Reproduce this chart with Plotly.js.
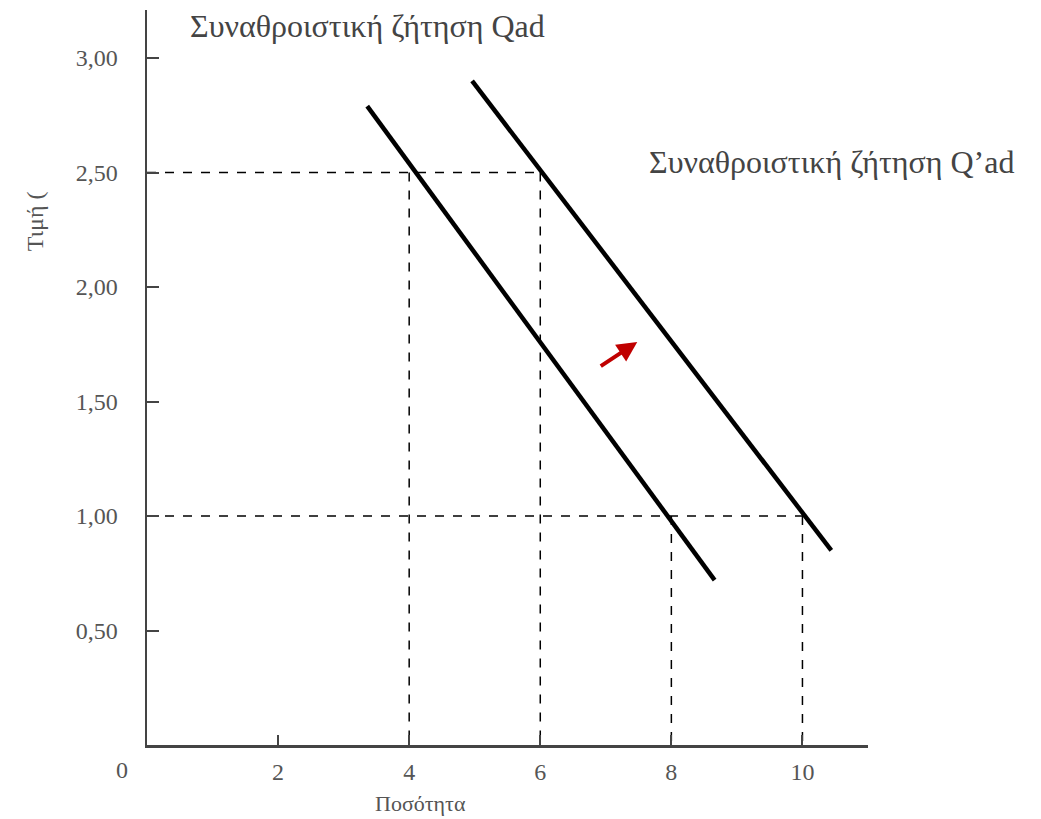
<!DOCTYPE html>
<html><head><meta charset="utf-8">
<script src="https://cdn.plot.ly/plotly-3.0.1.min.js"></script>
<style>html,body{margin:0;padding:0;background:#fff;}#chart{width:1041px;height:819px;}</style>
</head><body><div id="chart"></div>
<script>
// Demand curves (quantity, price)
const qadX = [3.36, 8.66];
const qadY = [2.79, 0.72];
const qadPrimeX = [4.96, 10.44];
const qadPrimeY = [2.90, 0.85];
// Dashed guide lines (price levels and quantities)
const guideX = [0, 6, null, 4, 4, null, 6, 6, null, 0, 10, null, 8, 8, null, 10, 10];
const guideY = [2.5, 2.5, null, 2.5, 0, null, 2.5, 0, null, 1.0, 1.0, null, 1.0, 0, null, 1.0, 0];
// Shift arrow
const arrowFrom = [6.9, 1.65];
const arrowTo = [7.48, 1.76];
// Ticks
const xTickVals = [2, 4, 6, 8, 10];
const xTickText = ['2', '4', '6', '8', '10'];
const yTickVals = [0.5, 1.0, 1.5, 2.0, 2.5, 3.0];
const yTickText = ['0,50', '1,00', '1,50', '2,00', '2,50', '3,00'];
// Texts
const labelQad = 'Συναθροιστική ζήτηση Qad';
const labelQadPrime = 'Συναθροιστική ζήτηση Q’ad';
const xTitle = 'Ποσότητα';
const yTitle = 'Τιμή (';

const serif = 'Liberation Serif, Times New Roman, serif';

const traces = [
  {x: guideX, y: guideY, mode: 'lines', line: {color: '#000', width: 1.5, dash: 'dash'}, hoverinfo: 'skip', connectgaps: false},
  {x: qadX, y: qadY, mode: 'lines', line: {color: '#000', width: 4.5}},
  {x: qadPrimeX, y: qadPrimeY, mode: 'lines', line: {color: '#000', width: 4.5}}
];

const layout = {
  width: 1041, height: 819,
  margin: {l: 147, r: 173, t: 10, b: 74},
  paper_bgcolor: '#fff', plot_bgcolor: '#fff',
  showlegend: false,
  xaxis: {
    range: [0, 11], showgrid: false, zeroline: false,
    showline: true, linecolor: '#444', linewidth: 2.5,
    ticks: 'inside', ticklen: 10, tickwidth: 2, tickcolor: '#444',
    tickvals: xTickVals, ticktext: xTickText, ticklabelstandoff: 4,
    tickfont: {family: serif, size: 24, color: '#555'}
  },
  yaxis: {
    range: [0, 3.21], showgrid: false, zeroline: false,
    showline: true, linecolor: '#444', linewidth: 2.5,
    ticks: 'inside', ticklen: 12, tickwidth: 2, tickcolor: '#444',
    tickvals: yTickVals, ticktext: yTickText, ticklabelstandoff: 22,
    tickfont: {family: serif, size: 24, color: '#555'}
  },
  annotations: [
    {x: 3.36, y: 3.14, xref: 'x', yref: 'y', text: labelQad, showarrow: false,
     xanchor: 'center', yanchor: 'middle',
     font: {family: serif, size: 32, color: '#444'}},
    {x: 10.44, y: 2.546, xref: 'x', yref: 'y', text: labelQadPrime, showarrow: false,
     xanchor: 'center', yanchor: 'middle',
     font: {family: serif, size: 32, color: '#444'}},
    {x: 4.17, y: -0.079, xref: 'x', yref: 'paper', text: xTitle, showarrow: false,
     xanchor: 'center', yanchor: 'middle',
     font: {family: serif, size: 22, color: '#555'}},
    {x: -0.155, y: 0.713, xref: 'paper', yref: 'paper', text: yTitle, showarrow: false, textangle: -90,
     xanchor: 'center', yanchor: 'middle',
     font: {family: serif, size: 24, color: '#555'}},
    {x: -0.035, y: -0.034, xref: 'paper', yref: 'paper', text: '0', showarrow: false,
     xanchor: 'center', yanchor: 'middle',
     font: {family: serif, size: 24, color: '#555'}},
    {x: arrowTo[0], y: arrowTo[1], ax: arrowFrom[0], ay: arrowFrom[1], xref: 'x', yref: 'y', axref: 'x', ayref: 'y',
     text: '', showarrow: true, arrowhead: 2, arrowsize: 1, arrowwidth: 4, arrowcolor: '#c00000'}
  ]
};

Plotly.newPlot('chart', traces, layout, {displayModeBar: false, staticPlot: true});
</script></body></html>
